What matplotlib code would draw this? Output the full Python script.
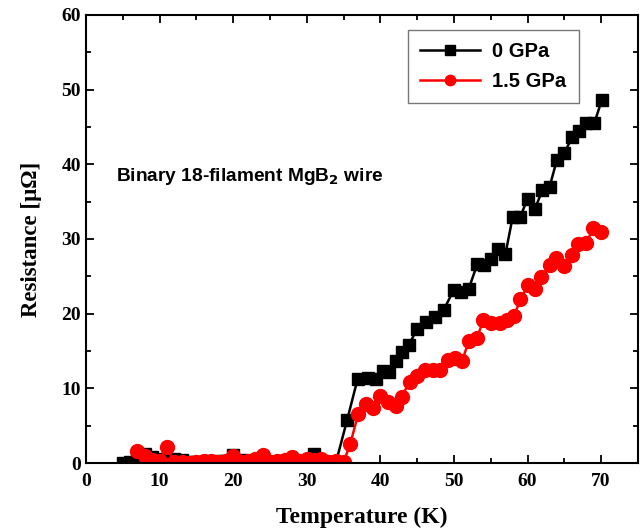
import matplotlib
matplotlib.use('Agg')
import matplotlib.pyplot as plt
from matplotlib.ticker import MultipleLocator

# 0 GPa (black squares)
temp_0 = [5, 6, 7, 8, 9, 10, 11, 12, 13, 14, 15, 16, 17, 18, 19, 20, 21, 22,
          23, 24, 25, 26, 27, 28, 29, 30, 31, 32, 33, 34, 35.5, 36.9, 38.3,
          39.4, 40.4, 41.2, 42.1, 42.9, 43.9, 45.0, 46.2, 47.4, 48.6, 50.0,
          51.0, 52.0, 53.2, 54.1, 55.0, 56.0, 57.0, 58.0, 59.0, 60.0, 61.0,
          62.0, 63.0, 64.0, 65.0, 66.1, 67.0, 68.0, 69.1, 70.1]
res_0 = [0.0, 0.2, 0.6, 1.2, 0.8, 0.5, 0.4, 0.6, 0.4, 0.2, 0.2, 0.1, 0.2, 0.3,
         0.3, 1.1, 0.4, 0.2, 0.2, 0.3, 0.2, 0.2, 0.3, 0.3, 0.2, 0.3, 1.2, 0.3,
         0.2, 0.2, 5.8, 11.2, 11.4, 11.3, 12.3, 12.2, 13.6, 14.9, 15.8, 18.0,
         18.9, 19.5, 20.5, 23.2, 22.9, 23.3, 26.7, 26.5, 27.3, 28.7, 28.0,
         33.0, 32.9, 35.4, 34.0, 36.5, 37.0, 40.6, 41.5, 43.7, 44.4, 45.5,
         45.6, 48.6]

# 1.5 GPa (red circles)
temp_15 = [7, 8, 9, 10, 11, 12, 13, 14, 15, 16, 17, 18, 19, 20, 21, 22, 23,
           24, 25, 26, 27, 28, 29, 30, 31, 32, 33, 34, 35, 35.9, 37.0, 38.0,
           39.0, 40.0, 41.1, 42.1, 42.9, 44.0, 45.0, 46.1, 47.2, 48.1, 49.2,
           50.1, 51.1, 52.0, 53.1, 54.0, 55.1, 56.2, 57.2, 58.2, 59.0, 60.1,
           61.0, 61.9, 63.0, 63.9, 64.9, 66.0, 66.9, 68.0, 68.9, 70.0]
res_15 = [1.6, 0.9, 0.4, 0.3, 2.1, 0.2, 0.1, 0.0, 0.2, 0.3, 0.3, 0.2, 0.3,
          0.9, 0.2, 0.3, 0.5, 1.1, 0.2, 0.3, 0.4, 0.8, 0.3, 0.5, 0.4, 0.5,
          0.2, 0.3, 0.1, 2.5, 6.6, 7.9, 7.3, 9.0, 8.2, 7.6, 8.9, 10.9, 11.6,
          12.4, 12.5, 12.4, 13.8, 14.0, 13.6, 16.3, 16.7, 19.1, 18.7, 18.7,
          19.2, 19.7, 21.9, 23.8, 23.3, 24.9, 26.5, 27.4, 26.4, 27.8, 29.3,
          29.4, 31.5, 31.0]

fig = plt.figure(figsize=(6.44, 5.28), dpi=100)
ax = fig.add_axes([0.1335, 0.1231, 0.857, 0.8485])

ax.plot(temp_0, res_0, color='black', marker='s', markersize=9, lw=1.8,
        label='0 GPa')
ax.plot(temp_15, res_15, color='red', marker='o', markersize=10, lw=1.8,
        label='1.5 GPa')

ax.set_xlim(0, 75)
ax.set_ylim(0, 60)
ax.xaxis.set_major_locator(MultipleLocator(10))
ax.xaxis.set_minor_locator(MultipleLocator(5))
ax.yaxis.set_major_locator(MultipleLocator(10))
ax.yaxis.set_minor_locator(MultipleLocator(5))
ax.tick_params(which='both', direction='in', top=True, right=True, width=1.3)
ax.tick_params(which='major', length=6)
ax.tick_params(which='minor', length=3.5)
ax.tick_params(axis='x', pad=7)
for s in ax.spines.values():
    s.set_linewidth(1.5)

serif = {'family': 'Liberation Serif', 'weight': 'bold'}
for lab in ax.get_xticklabels() + ax.get_yticklabels():
    lab.set_fontproperties('Liberation Serif')
    lab.set_fontweight('bold')
    lab.set_fontsize(14)

ax.set_xlabel('Temperature (K)', fontdict=serif, fontsize=17, labelpad=12)
ax.set_ylabel('Resistance [μΩ]', fontdict=serif, fontsize=16.5, labelpad=14)

ax.text(0.055, 0.63, r'Binary 18-filament MgB$_\mathbf{2}$ wire',
        transform=ax.transAxes, family='Liberation Sans', weight='bold',
        fontsize=13.8)

leg = ax.legend(loc='upper left', bbox_to_anchor=(0.583, 0.9665),
                borderaxespad=0,
                prop={'family': 'Liberation Sans', 'weight': 'bold',
                      'size': 14.5},
                fancybox=False, edgecolor='#777777', framealpha=1,
                handlelength=3.0, handletextpad=0.6, markerscale=0.75,
                borderpad=0.6, labelspacing=0.55)
leg.get_frame().set_linewidth(1.0)

fig.savefig('out.png', dpi=100)
